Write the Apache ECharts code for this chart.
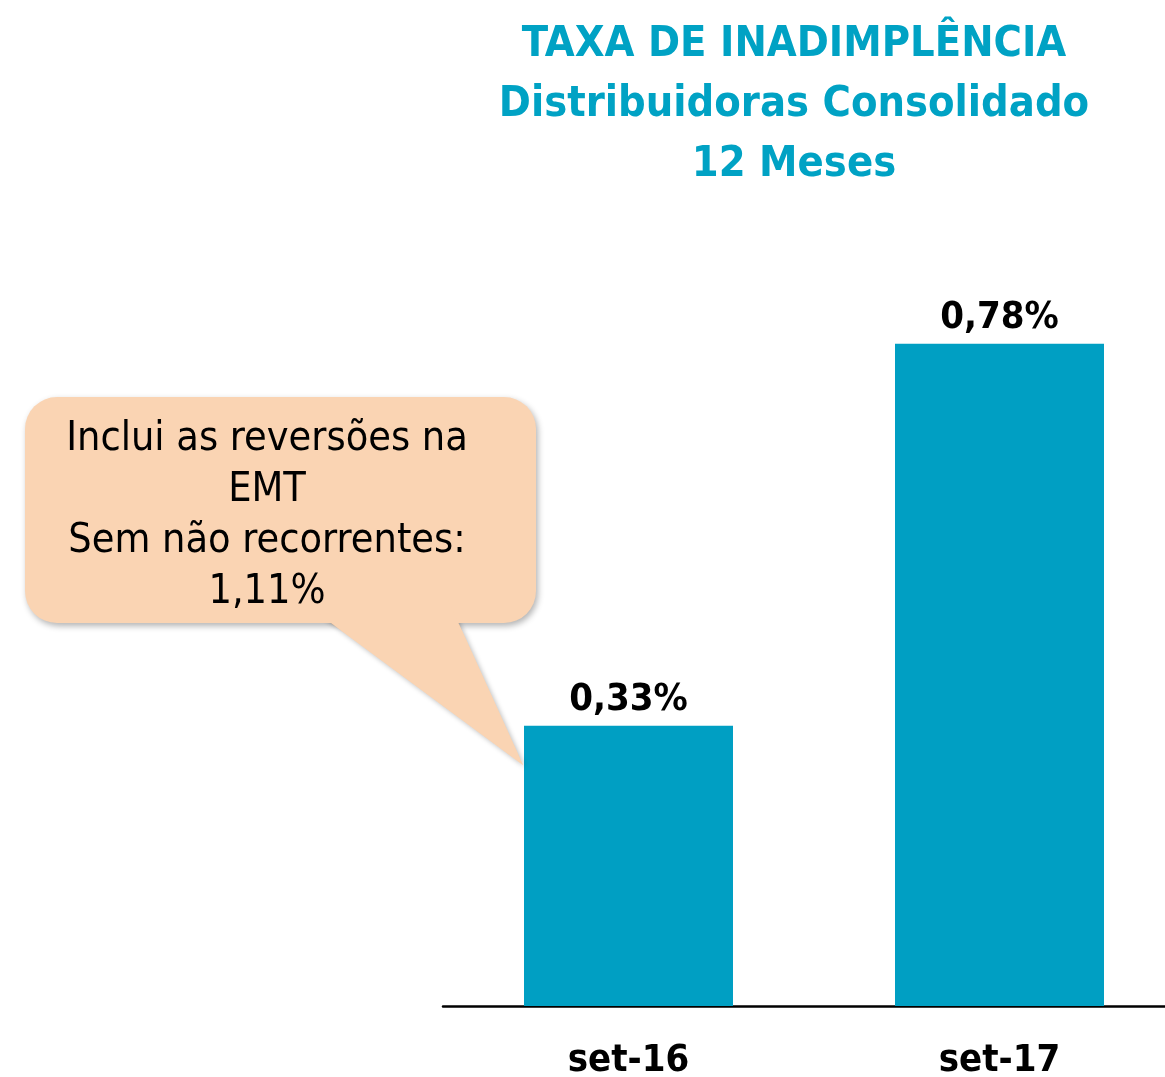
<!DOCTYPE html>
<html>
<head>
<meta charset="utf-8">
<script src="https://cdn.jsdelivr.net/npm/echarts@6/dist/echarts.min.js"></script>
<style>
  html, body { margin: 0; padding: 0; background: #fff; }
  #chart { width: 1165px; height: 1077px; }
</style>
</head>
<body>
<div id="chart"></div>
<script>
// dados
var categorias = ["set-16", "set-17"];
var taxas = [0.33, 0.78];
var tituloLinhas = ["TAXA DE INADIMPLÊNCIA", "Distribuidoras Consolidado", "12 Meses"];
var notaLinhas = ["Inclui as reversões na", "EMT", "Sem não recorrentes:", "1,11%"];

var fonte = "'DejaVu Sans Condensed', 'DejaVu Sans', sans-serif";
var azul = "#009fc3";
var pessego = "#fad4b3";

var myChart = echarts.init(document.getElementById("chart"));

var option = {
  animation: false,
  title: {
    text: tituloLinhas.join("\n"),
    left: 789,
    top: 10,
    textAlign: "center",
    textStyle: {
      color: "#00a2c4",
      fontFamily: fonte,
      fontWeight: "bold",
      fontSize: 43,
      lineHeight: 60
    }
  },
  grid: {
    left: 443,
    width: 742,
    top: 157,
    bottom: 71,
    outerBoundsMode: "none",
    containLabel: false
  },
  xAxis: {
    type: "category",
    data: categorias,
    axisLine: { lineStyle: { color: "#000", width: 2.5 } },
    axisTick: { show: false },
    axisLabel: {
      margin: 36,
      color: "#000",
      fontFamily: fonte,
      fontWeight: "bold",
      fontSize: 38
    }
  },
  yAxis: {
    type: "value",
    min: 0,
    max: 1,
    show: false,
    splitLine: { show: false }
  },
  series: [
    {
      type: "bar",
      data: taxas,
      barWidth: 209,
      itemStyle: { color: azul },
      label: {
        show: true,
        position: "top",
        distance: 7,
        color: "#000",
        fontFamily: fonte,
        fontWeight: "bold",
        fontSize: 38,
        formatter: function (p) {
          return p.value.toFixed(2).replace(".", ",") + "%";
        }
      }
    }
  ],
  graphic: [
    {
      type: "polygon",
      shape: { points: [[320, 615], [455, 615], [523, 765]] },
      style: {
        fill: pessego,
        shadowBlur: 5,
        shadowOffsetX: 2,
        shadowOffsetY: 2,
        shadowColor: "rgba(0,0,0,0.25)"
      },
      z: 10
    },
    {
      type: "rect",
      shape: { x: 25, y: 397, width: 511, height: 226, r: 32 },
      style: {
        fill: pessego,
        shadowBlur: 6,
        shadowOffsetX: 2,
        shadowOffsetY: 3,
        shadowColor: "rgba(0,0,0,0.3)"
      },
      z: 11
    },
    {
      // cobre a sombra da caixa sobre a ponta
      type: "polygon",
      shape: { points: [[300, 600], [448, 600], [523, 765]] },
      style: { fill: pessego },
      z: 12
    },
    {
      type: "text",
      x: 267,
      y: 414,
      style: {
        text: notaLinhas.join("\n"),
        fill: "#000",
        font: "41px " + fonte,
        lineHeight: 51,
        align: "center",
        verticalAlign: "top"
      },
      z: 13
    }
  ]
};

myChart.setOption(option);
</script>
</body>
</html>
